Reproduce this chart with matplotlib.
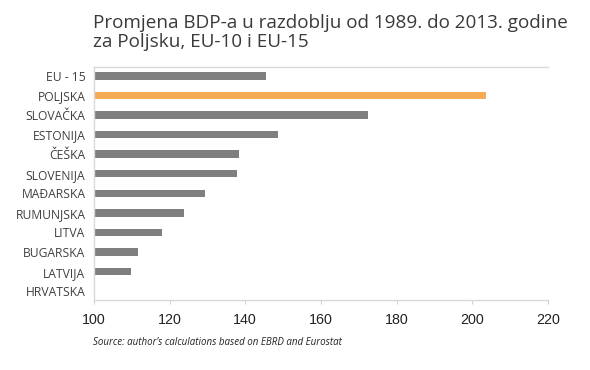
import matplotlib.pyplot as plt

zemlje = ["EU - 15", "POLJSKA", "SLOVAČKA", "ESTONIJA", "ČEŠKA", "SLOVENIJA",
          "MAĐARSKA", "RUMUNJSKA", "LITVA", "BUGARSKA", "LATVIJA", "HRVATSKA"]
vrijednosti = [145.5, 203.7, 172.5, 148.7, 138.3, 137.8, 129.4, 123.8, 118.1, 111.7, 109.9, 100.4]
boje = ["#7f7f7f", "#f5ac55"] + ["#7f7f7f"] * 10
x_ticks = [100, 120, 140, 160, 180, 200, 220]

fig = plt.figure(figsize=(5.9, 3.7), dpi=100)
ax = fig.add_axes([0.159, 0.189, 0.77, 0.63])

pozicije = list(range(len(zemlje)))
ax.barh(pozicije, [v - 100 for v in vrijednosti], left=100, height=0.38, color=boje)
ax.set_ylim(len(zemlje) - 0.55, -0.45)
ax.set_xlim(100, 220)
ax.set_yticks(pozicije)
ax.set_yticklabels(zemlje, fontsize=8.7, family="Open Sans", color="#404040")
ax.tick_params(axis="y", length=0, pad=6)
ax.set_xticks(x_ticks)
ax.set_xticklabels([str(t) for t in x_ticks], fontsize=10.3, family="Liberation Sans", color="#222222")
ax.tick_params(axis="x", length=3, color="#d0d0d0", pad=6)

ax.spines["right"].set_visible(False)
for s in ["top", "bottom", "left"]:
    ax.spines[s].set_color("#d9d9d9")
    ax.spines[s].set_linewidth(1)

fig.text(0.157, 0.963, "Promjena BDP-a u razdoblju od 1989. do 2013. godine\nza Poljsku, EU-10 i EU-15",
         fontsize=13.6, family="Open Sans", color="#3a3a3a", va="top", ha="left", linespacing=1.1)
fig.text(0.158, 0.073, "Source: author’s calculations based on EBRD and Eurostat",
         fontsize=7.0, family="Open Sans", style="italic", color="#222222", ha="left", va="center")

fig.savefig("out.png", dpi=100, facecolor="white")
